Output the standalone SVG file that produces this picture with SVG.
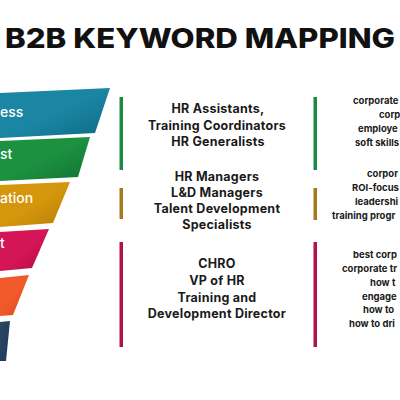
<svg xmlns="http://www.w3.org/2000/svg" width="400" height="400" viewBox="0 0 400 400">
<style>
.title{font-family:Inter,"Liberation Sans",sans-serif;font-weight:800;font-size:27px;fill:#111}
.band{font-family:Inter,"Liberation Sans",sans-serif;font-weight:500;font-size:14px;fill:#fff}
.mid{font-family:Inter,"Open Sans","Liberation Sans",sans-serif;font-weight:700;font-size:12.5px;letter-spacing:0.25px;fill:#1a1a1a;text-anchor:middle}
.kw{font-family:Inter,"Open Sans","Liberation Sans",sans-serif;font-weight:700;font-size:9.5px;fill:#1a1a1a}
</style>
<defs>
<linearGradient id="gTeal" x1="0" y1="0" x2="1" y2="1"><stop offset="0.5" stop-color="#1a86a3"/><stop offset="1" stop-color="#0e6a85"/></linearGradient>
<linearGradient id="gGreen" x1="0" y1="0" x2="1" y2="1"><stop offset="0.5" stop-color="#1c9140"/><stop offset="1" stop-color="#117232"/></linearGradient>
<linearGradient id="gGold" x1="0" y1="0" x2="1" y2="1"><stop offset="0.5" stop-color="#d4960c"/><stop offset="1" stop-color="#b67d05"/></linearGradient>
<linearGradient id="gCrim" x1="0" y1="0" x2="1" y2="1"><stop offset="0.5" stop-color="#d41656"/><stop offset="1" stop-color="#b30a47"/></linearGradient>
<linearGradient id="gOrange" x1="0" y1="0" x2="1" y2="1"><stop offset="0.5" stop-color="#f0592a"/><stop offset="1" stop-color="#d2421b"/></linearGradient>
<linearGradient id="gNavy" x1="0" y1="0" x2="1" y2="1"><stop offset="0" stop-color="#2a4866"/><stop offset="1" stop-color="#203a55"/></linearGradient>
</defs>
<rect width="400" height="400" fill="#fff"/>
<text class="title" x="5" y="48" textLength="390" lengthAdjust="spacingAndGlyphs">B2B KEYWORD MAPPING</text>

<g id="funnel-awareness"><polygon points="0,93 110,88 95,133 0,138" fill="url(#gTeal)"/><text class="band" x="0" y="117">ess</text></g>
<g id="funnel-interest"><polygon points="0,141 90,137 78,177 0,181" fill="url(#gGreen)"/><text class="band" x="0" y="159">st</text></g>
<g id="funnel-consideration"><polygon points="0,185 70,182 53,223 0,227" fill="url(#gGold)"/><text class="band" x="0" y="203">ation</text></g>
<g id="funnel-intent"><polygon points="0,232 49,229 32,268 0,271" fill="url(#gCrim)"/><text class="band" x="0" y="248">t</text></g>
<g id="funnel-evaluation"><polygon points="0,278 29,275 13,315 0,316" fill="url(#gOrange)"/></g>
<g id="funnel-purchase"><polygon points="0,322 10,321 6,361 0,361" fill="url(#gNavy)"/></g>

<g id="connectors">
<rect x="119.5" y="97" width="3.5" height="73" fill="#1c8a45"/>
<rect x="119.5" y="188" width="3.5" height="31" fill="#a8781c"/>
<rect x="119.5" y="242" width="3.5" height="105" fill="#b0124d"/>
<rect x="313.5" y="97" width="3.5" height="73" fill="#1c8a45"/>
<rect x="313.5" y="188" width="3.5" height="32" fill="#a8781c"/>
<rect x="313.5" y="242" width="3.5" height="105" fill="#b0124d"/>
</g>

<g id="roles-1"><text class="mid" x="218" y="113">HR Assistants,</text><text class="mid" x="217" y="130">Training Coordinators</text><text class="mid" x="218" y="146">HR Generalists</text></g>
<g id="roles-2"><text class="mid" x="217" y="181">HR Managers</text><text class="mid" x="217" y="197">L&amp;D Managers</text><text class="mid" x="217" y="213">Talent Development</text><text class="mid" x="217" y="229">Specialists</text></g>
<g id="roles-3"><text class="mid" x="217" y="268">CHRO</text><text class="mid" x="217" y="285">VP of HR</text><text class="mid" x="217" y="302">Training and</text><text class="mid" x="217" y="318">Development Director</text></g>

<g id="keywords-1"><text class="kw" x="353" y="104">corporate</text><text class="kw" x="379" y="118">corp</text><text class="kw" x="358" y="132">employe</text><text class="kw" x="355" y="146">soft skills</text></g>
<g id="keywords-2"><text class="kw" x="367" y="177">corpor</text><text class="kw" x="352" y="191">ROI-focus</text><text class="kw" x="355" y="205">leadershi</text><text class="kw" x="332" y="219">training progr</text></g>
<g id="keywords-3"><text class="kw" x="353" y="258">best corp</text><text class="kw" x="342" y="272">corporate tr</text><text class="kw" x="370" y="286">how t</text><text class="kw" x="362" y="300">engage</text><text class="kw" x="363" y="313">how to</text><text class="kw" x="349" y="327">how to dri</text></g>
</svg>
